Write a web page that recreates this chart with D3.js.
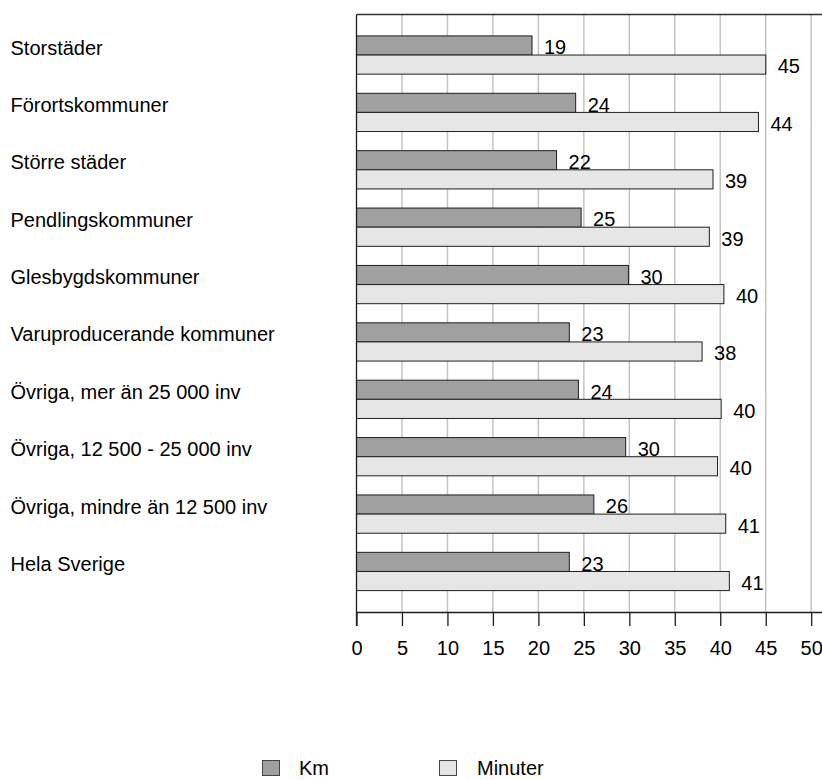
<!DOCTYPE html>
<html>
<head>
<meta charset="utf-8">
<script src="https://cdn.jsdelivr.net/npm/d3@7"></script>
<style>
  body { margin: 0; background: #fff; }
  svg { display: block; }
  text { font-family: "Liberation Sans", Arial, sans-serif; font-size: 20px; fill: #000; }
</style>
</head>
<body>
<svg id="chart" width="822" height="780"></svg>
<script>
// Kommungrupper
const categories = [
  "Storstäder",
  "Förortskommuner",
  "Större städer",
  "Pendlingskommuner",
  "Glesbygdskommuner",
  "Varuproducerande kommuner",
  "Övriga, mer än 25 000 inv",
  "Övriga, 12 500 - 25 000 inv",
  "Övriga, mindre än 12 500 inv",
  "Hela Sverige"
];
const seriesNames = ["Km", "Minuter"];
const kmValues      = [19.3, 24.1, 22.0, 24.7, 29.9, 23.4, 24.4, 29.6, 26.1, 23.4];
const minuterValues = [45.0, 44.2, 39.2, 38.8, 40.4, 38.0, 40.1, 39.7, 40.6, 41.0];
const xTicks = [0, 5, 10, 15, 20, 25, 30, 35, 40, 45, 50];
const xGridTicks = [5, 10, 15, 20, 25, 30, 35, 40, 45, 50, 55];
const seriesColors = ["#a0a0a0", "#e6e6e6"];

const svg = d3.select("#chart");
const plot = { left: 356.5, top: 14.5, bottom: 612 };
const unit = 9.094;

// the plot frame runs on past the right edge of the page
const x = d3.scaleLinear().domain([0, 55]).range([plot.left, plot.left + 55 * unit]);
const y = d3.scaleBand().domain(categories).range([plot.top, plot.bottom])
  .paddingInner(1 / 3).paddingOuter(0.373);
const ySub = d3.scaleBand().domain(seriesNames).range([0, y.bandwidth()]);
const color = d3.scaleOrdinal().domain(seriesNames).range(seriesColors);

const rows = categories.map((c, i) => ({
  category: c,
  values: [
    { series: "Km", value: kmValues[i] },
    { series: "Minuter", value: minuterValues[i] }
  ]
}));

// vertical gridlines
svg.append("g")
  .selectAll("line")
  .data(xGridTicks)
  .join("line")
  .attr("x1", d => x(d)).attr("x2", d => x(d))
  .attr("y1", plot.top).attr("y2", plot.bottom)
  .attr("stroke", "#c4c4c4")
  .attr("stroke-width", 1.5);

// top frame line
svg.append("line")
  .attr("x1", plot.left).attr("x2", x(55))
  .attr("y1", plot.top).attr("y2", plot.top)
  .attr("stroke", "#333").attr("stroke-width", 1.5);

// bars
const groups = svg.append("g")
  .selectAll("g")
  .data(rows)
  .join("g")
  .attr("transform", d => `translate(0,${y(d.category)})`);

groups.selectAll("rect")
  .data(d => d.values)
  .join("rect")
  .attr("x", x(0))
  .attr("y", d => ySub(d.series))
  .attr("width", d => x(d.value) - x(0))
  .attr("height", ySub.bandwidth())
  .attr("fill", d => color(d.series))
  .attr("stroke", "#1e1e1e")
  .attr("stroke-width", 1);

// value labels
const fmt = d3.format(".0f");
groups.selectAll("text.value")
  .data(d => d.values)
  .join("text")
  .attr("class", "value")
  .attr("x", d => x(d.value) + 12)
  .attr("y", d => ySub(d.series) + ySub.bandwidth() - 0.7)
  .text(d => fmt(d.value));

// category labels
svg.append("g")
  .selectAll("text")
  .data(categories)
  .join("text")
  .attr("x", 10.5)
  .attr("y", d => y(d) + ySub("Km") + ySub.bandwidth() - 0.5)
  .text(d => d);

// x axis
const xAxis = svg.append("g")
  .attr("transform", `translate(0,${plot.bottom})`)
  .call(d3.axisBottom(x).tickValues(xTicks).tickSize(14).tickSizeOuter(0).tickPadding(15));
xAxis.select(".domain").attr("stroke", "#1e1e1e").attr("stroke-width", 1.3);
xAxis.selectAll(".tick line").attr("stroke", "#1e1e1e").attr("stroke-width", 1.3);
xAxis.selectAll(".tick text")
  .attr("font-size", null)
  .attr("font-family", null)
  .style("font-size", "20px")
  .attr("fill", "#000");

// left axis line
svg.append("line")
  .attr("x1", x(0)).attr("x2", x(0))
  .attr("y1", plot.top).attr("y2", plot.bottom + 14)
  .attr("stroke", "#1e1e1e").attr("stroke-width", 1.3);

// legend
const legendItems = [
  { name: "Km", sx: 262, tx: 299 },
  { name: "Minuter", sx: 439, tx: 477 }
];
const legend = svg.append("g")
  .selectAll("g")
  .data(legendItems)
  .join("g");
legend.append("rect")
  .attr("x", d => d.sx + 0.5).attr("y", 760.5)
  .attr("width", 17).attr("height", 15)
  .attr("fill", d => color(d.name))
  .attr("stroke", "#444").attr("stroke-width", 1);
legend.append("text")
  .attr("x", d => d.tx)
  .attr("y", 775)
  .text(d => d.name);
</script>
</body>
</html>
